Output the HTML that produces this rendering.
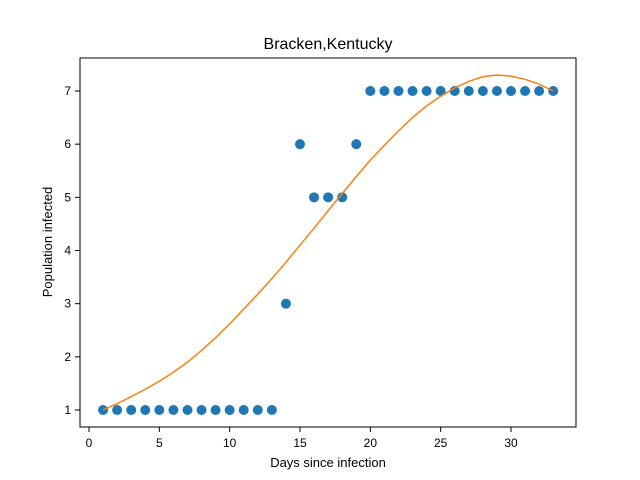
<!DOCTYPE html>
<html><head><meta charset="utf-8"><style>body{margin:0;background:#fff}svg{display:block;font-family:"Liberation Sans","DejaVu Sans",sans-serif}</style></head>
<body>
<svg id="chart" width="640" height="480">
<rect width="640" height="480" fill="#fff"/>
<text x="328" y="49" font-size="16" text-anchor="middle">Bracken,Kentucky</text>
<g id="plot"></g>
<rect x="80" y="58" width="496" height="369" fill="none" stroke="#000" stroke-width="1"/>
<text x="328" y="467" font-size="13" text-anchor="middle">Days since infection</text>
<text transform="translate(52,242) rotate(-90)" font-size="13" text-anchor="middle">Population infected</text>
</svg>
<script>
const days = [1,2,3,4,5,6,7,8,9,10,11,12,13,14,15,16,17,18,19,20,21,22,23,24,25,26,27,28,29,30,31,32,33];
const infected = [1,1,1,1,1,1,1,1,1,1,1,1,1,3,6,5,5,5,6,7,7,7,7,7,7,7,7,7,7,7,7,7,7];
const fitValues = [1.0,1.12,1.25,1.39,1.54,1.71,1.9,2.12,2.36,2.62,2.9,3.18,3.47,3.78,4.1,4.42,4.75,5.07,5.39,5.7,5.98,6.25,6.5,6.72,6.9,7.06,7.18,7.27,7.3,7.28,7.22,7.13,7.0];
const xTicks = [0,5,10,15,20,25,30];
const yTicks = [1,2,3,4,5,6,7];
const sx = v => 89 + v*(511-89)/30;
const sy = v => 410 - (v-1)*(410-91)/6;
const NS = "http://www.w3.org/2000/svg";
const g = document.getElementById('plot');
function mk(t, a){const e=document.createElementNS(NS,t);for(const k in a)e.setAttribute(k,a[k]);g.appendChild(e);return e;}
xTicks.forEach(t=>{
  const l=mk('line',{x1:sx(t),x2:sx(t),y1:427,y2:432,stroke:'#000'});
  
  
  const tx=mk('text',{x:sx(t),y:447,'font-size':12,'text-anchor':'middle'});tx.textContent=t;
  
  
});
yTicks.forEach(t=>{
  const l=mk('line',{x1:75,x2:80,y1:sy(t),y2:sy(t),stroke:'#000'});
  
  
  const tx=mk('text',{x:71,y:sy(t)+4,'font-size':12,'text-anchor':'end'});tx.textContent=t;
  
  
});
days.forEach((d,i)=>{
  const c=mk('circle',{cx:sx(d),cy:sy(infected[i]),r:5,fill:'#1f77b4'});
  
  
});
const p=mk('polyline',{points:days.map((d,i)=>sx(d)+','+sy(fitValues[i])).join(' '),fill:'none',stroke:'#ff7f0e','stroke-width':1.5});


</script>
</body></html>
